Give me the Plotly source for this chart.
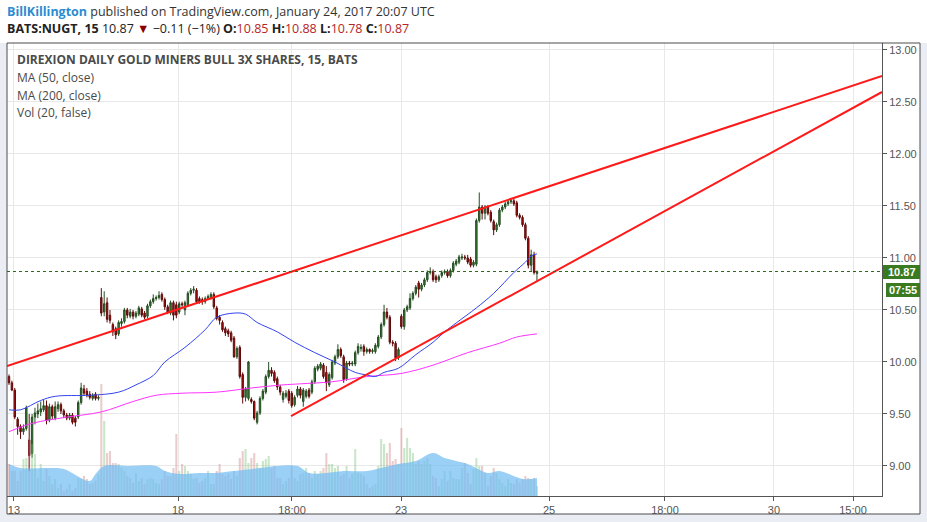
import plotly.graph_objects as go

# ---------------- data (15-min bars, BATS:NUGT) ----------------
opens = [9.86,9.80,9.73,9.45,9.38,9.33,9.36,9.25,9.12,9.47,9.50,9.52,9.54,9.58,9.44,9.57,9.46,9.55,9.59,9.53,
         9.49,9.46,9.49,9.46,9.47,9.61,9.74,9.72,9.69,9.65,9.69,9.65,
         10.62,10.48,10.57,10.45,10.36,10.32,10.27,10.37,10.39,10.50,10.44,10.48,10.44,10.46,10.51,10.47,10.44,10.54,
         10.58,10.61,10.62,10.65,10.60,10.53,10.47,10.57,
         10.55,10.48,10.56,10.50,10.55,10.66,10.69,10.69,10.61,10.60,10.58,10.61,10.62,10.65,10.52,10.43,10.38,10.32,
         10.30,10.28,10.23,10.05,10.14,9.88,9.66,9.65,
         9.64,9.62,9.42,9.51,9.65,9.71,9.86,9.92,9.90,9.84,9.76,9.64,9.67,9.72,9.70,9.59,9.68,9.74,9.62,9.67,
         9.73,9.71,9.81,9.93,9.94,9.97,
         9.90,9.78,9.85,9.99,10.05,10.12,10.05,9.84,9.99,9.98,9.98,10.09,10.13,10.15,10.10,10.12,10.10,10.10,10.15,10.24,
         10.36,10.48,10.43,10.19,10.18,10.04,
         10.44,10.34,10.50,10.52,10.61,10.66,10.76,10.70,10.74,10.79,10.86,10.87,10.82,10.79,10.83,10.86,10.87,10.83,10.88,10.94,
         10.96,11.00,11.01,11.00,10.99,10.93,
         10.94,11.36,11.49,11.43,11.49,11.44,11.35,11.27,11.32,11.46,11.49,11.52,11.54,11.55,11.53,11.41,11.39,11.32,11.19,10.93,
         11.03,10.85]
highs = [9.88,9.82,9.75,9.47,9.40,9.40,9.58,9.50,9.50,9.56,9.60,9.62,9.64,9.63,9.60,9.59,9.62,9.62,9.61,9.55,
         9.51,9.51,9.51,9.48,9.63,9.80,9.78,9.75,9.72,9.70,9.71,9.68,
         10.71,10.68,10.62,10.50,10.38,10.34,10.40,10.42,10.52,10.52,10.51,10.50,10.49,10.54,10.53,10.49,10.56,10.60,
         10.65,10.64,10.68,10.67,10.62,10.55,10.59,10.59,
         10.58,10.58,10.58,10.59,10.68,10.71,10.73,10.71,10.63,10.62,10.63,10.65,10.67,10.67,10.54,10.45,10.40,10.34,
         10.32,10.30,10.25,10.15,10.16,9.90,9.76,10.01,
         9.66,9.63,9.53,9.67,9.74,9.88,10.00,9.95,9.92,9.86,9.78,9.72,9.73,9.74,9.72,9.68,9.77,9.76,9.75,9.74,
         9.75,9.83,9.96,9.98,10.00,9.99,
         9.96,9.90,10.02,10.07,10.17,10.14,10.07,10.01,10.01,10.01,10.11,10.18,10.17,10.17,10.14,10.13,10.13,10.18,10.26,10.38,
         10.55,10.52,10.45,10.21,10.20,10.14,
         10.46,10.52,10.55,10.66,10.68,10.74,10.78,10.76,10.81,10.88,10.91,10.89,10.84,10.84,10.88,10.89,10.89,10.90,10.97,10.99,
         11.03,11.04,11.03,11.03,11.01,10.98,
         11.38,11.63,11.51,11.51,11.51,11.46,11.37,11.34,11.48,11.51,11.54,11.56,11.57,11.57,11.55,11.43,11.41,11.34,11.21,11.08,
         11.06,10.88]
lows = [9.78,9.72,9.45,9.30,9.26,9.30,9.34,8.95,9.08,9.40,9.46,9.48,9.52,9.40,9.42,9.45,9.44,9.52,9.50,9.46,
        9.44,9.44,9.40,9.38,9.45,9.59,9.68,9.66,9.64,9.63,9.63,9.63,
        10.44,10.44,10.38,10.37,10.25,10.22,10.25,10.34,10.37,10.42,10.42,10.41,10.42,10.44,10.43,10.41,10.42,10.52,
        10.56,10.59,10.60,10.58,10.50,10.46,10.45,10.40,
        10.42,10.46,10.53,10.45,10.53,10.64,10.66,10.56,10.56,10.55,10.56,10.60,10.60,10.51,10.40,10.36,10.29,10.25,
        10.24,10.19,10.04,10.03,9.84,9.60,9.62,9.63,
        9.60,9.44,9.40,9.49,9.63,9.69,9.84,9.86,9.80,9.73,9.68,9.61,9.65,9.60,9.56,9.57,9.66,9.65,9.57,9.65,
        9.65,9.69,9.79,9.91,9.92,9.84,
        9.72,9.76,9.83,9.97,10.03,10.04,9.80,9.82,9.96,9.96,9.96,10.07,10.10,10.06,10.08,10.08,10.08,10.08,10.13,10.22,
        10.34,10.41,10.17,10.15,10.01,10.02,
        10.32,10.31,10.48,10.50,10.59,10.64,10.62,10.68,10.72,10.77,10.84,10.77,10.76,10.77,10.81,10.84,10.81,10.81,10.86,10.92,
        10.94,10.98,10.98,10.94,10.91,10.91,
        10.92,11.34,11.37,11.37,11.41,11.34,11.22,11.25,11.30,11.44,11.47,11.50,11.52,11.50,11.39,11.37,11.30,11.17,10.90,10.87,
        10.84,10.78]
closes = [9.80,9.73,9.47,9.38,9.33,9.36,9.56,9.10,9.47,9.51,9.53,9.55,9.58,9.44,9.57,9.48,9.57,9.59,9.53,9.49,
          9.46,9.49,9.42,9.42,9.61,9.75,9.70,9.68,9.66,9.68,9.65,9.66,
          10.47,10.56,10.41,10.40,10.29,10.26,10.38,10.39,10.50,10.45,10.48,10.44,10.47,10.52,10.45,10.43,10.54,10.58,
          10.61,10.62,10.64,10.60,10.53,10.48,10.57,10.45,
          10.45,10.56,10.55,10.57,10.66,10.69,10.70,10.58,10.58,10.58,10.61,10.63,10.65,10.53,10.42,10.40,10.31,10.28,
          10.27,10.21,10.05,10.13,9.86,9.66,9.74,10.00,
          9.62,9.46,9.51,9.65,9.72,9.86,9.92,9.89,9.82,9.76,9.71,9.70,9.70,9.63,9.58,9.66,9.74,9.68,9.73,9.72,
          9.67,9.81,9.94,9.96,9.98,9.86,
          9.80,9.88,10.00,10.05,10.12,10.06,9.83,9.99,9.98,9.99,10.09,10.15,10.14,10.10,10.12,10.10,10.11,10.16,10.24,10.36,
          10.48,10.43,10.19,10.18,10.04,10.12,
          10.34,10.50,10.53,10.61,10.66,10.72,10.70,10.74,10.79,10.86,10.87,10.79,10.79,10.82,10.86,10.87,10.83,10.88,10.95,10.97,
          11.01,11.01,11.00,10.96,10.93,10.96,
          11.36,11.49,11.43,11.49,11.43,11.36,11.27,11.32,11.46,11.49,11.52,11.54,11.55,11.52,11.41,11.39,11.32,11.19,10.93,11.03,
          10.86,10.87]
volume_k = [32,25,25,15,25,37,38,58,52,42,18,32,15,27,20,12,17,8,12,5,7,12,5,8,18,17,20,17,12,13,15,
            22,112,75,43,45,33,33,32,28,25,20,18,13,23,15,18,12,17,18,17,13,12,17,25,20,20,28,62,25,32,
            30,25,22,17,18,13,15,18,25,12,12,25,32,22,20,22,17,25,20,38,45,47,33,38,43,33,28,35,37,40,28,30,
            18,18,12,15,18,30,18,15,22,23,28,23,18,25,22,25,28,43,32,32,28,30,20,22,30,18,22,47,23,22,20,
            12,8,10,12,30,57,52,43,53,35,37,32,68,48,58,48,43,32,35,32,35,38,32,20,18,10,17,25,15,25,18,
            17,17,28,33,23,12,27,38,30,30,23,10,20,28,23,17,13,10,17,13,12,17,13,17,20,18,17,18,10]
# indicator readings (bar index, value)
ma50_idx = [0,4,11,16,28,38,44,50,54,61,68,72,78,82,86,93,99,106,113,120,124,127,130,135,141,147,151,155,162,168,175,179,181,183]
ma50_val = [9.54,9.54,9.63,9.67,9.68,9.71,9.78,9.87,10.00,10.14,10.31,10.43,10.47,10.46,10.38,10.29,10.19,10.09,10.00,9.90,
            9.875,9.86,9.90,9.94,10.07,10.19,10.29,10.375,10.52,10.66,10.86,10.96,11.02,11.04]
ma200_idx = [0,8,20,32,43,51,60,72,84,95,101,112,124,136,147,159,170,176,183]
ma200_val = [9.33,9.41,9.47,9.52,9.62,9.68,9.70,9.71,9.75,9.78,9.79,9.81,9.86,9.89,9.97,10.09,10.18,10.24,10.27]
volma_idx = [0,4,14,19,28,30,33,42,51,54,59,66,71,78,87,93,100,104,110,116,124,129,135,141,147,151,155,159,166,170,178,183]
volma_k = [32,28,28,27,15,22,30,30,30,25,22,23,23,25,28,30,30,23,23,25,25,28,32,35,43,38,35,32,23,25,17,18]
# trend lines drawn by author: (bar index, price)
upper_trend = [(-0.69, 9.962), (302.6, 12.75)]
lower_trend = [(97.75, 9.48), (302.6, 12.596)]
last_price = 10.87
price_ticks = [9.0, 9.5, 10.0, 10.5, 11.0, 11.5, 12.0, 12.5, 13.0]
x_tick_pos = [1.73, 58.58, 98.09, 135.88, 187.18, 227.38, 265.16, 292.55]
x_tick_text = ["13", "18", "18:00", "23", "25", "18:00", "30", "15:00"]

# ---------------- layout geometry ----------------
L, R, T, B = 7, 882, 43, 496
W, H = R - L, B - T
def PX(x): return (x - L) / W
def PY(y): return (B - y) / H

idx = list(range(len(closes)))
vol_colors = ['rgba(110,190,110,0.38)' if c >= o else 'rgba(200,120,120,0.38)' for o, c in zip(opens, closes)]

fig = go.Figure()
fig.add_trace(go.Scatter(x=volma_idx, y=volma_k, yaxis='y2', mode='lines', line=dict(width=0, shape='spline'),
                         fill='tozeroy', fillcolor='rgba(115,188,242,0.72)', hoverinfo='skip', showlegend=False))
fig.add_trace(go.Bar(x=idx, y=volume_k, yaxis='y2', marker=dict(color=vol_colors, line=dict(width=0)),
                     width=0.72, showlegend=False))
fig.add_trace(go.Scatter(x=ma200_idx, y=ma200_val, mode='lines', line=dict(color='#ff33ff', width=1, shape='spline'),
                         showlegend=False))
fig.add_trace(go.Scatter(x=ma50_idx, y=ma50_val, mode='lines', line=dict(color='#3344ee', width=1, shape='spline'),
                         showlegend=False))
for tl in (upper_trend, lower_trend):
    fig.add_trace(go.Scatter(x=[p[0] for p in tl], y=[p[1] for p in tl], mode='lines',
                             line=dict(color='#ff1a1a', width=2), showlegend=False))
fig.add_trace(go.Candlestick(x=idx, open=opens, high=highs, low=lows, close=closes,
                             increasing=dict(fillcolor='#3a7f35', line=dict(color='#234d20', width=1)),
                             decreasing=dict(fillcolor='#b81010', line=dict(color='#5e0808', width=1)),
                             whiskerwidth=0, showlegend=False))

axfont = dict(family='Liberation Sans, Arial, sans-serif', size=11, color='#555555')
bg = '#eaeef4'
fig.update_layout(
    width=927, height=522, margin=dict(l=L, r=927 - R, t=T, b=522 - B, autoexpand=False),
    paper_bgcolor=bg, plot_bgcolor='white', showlegend=False, boxgap=0.3,
    xaxis=dict(range=[-0.693, 302.6], tickvals=x_tick_pos, ticktext=x_tick_text, showgrid=True, gridcolor='#e8e8e8',
               ticks='outside', ticklen=4, tickcolor='#555', showline=True, linecolor='#555', linewidth=1,
               zeroline=False, tickfont=axfont, rangeslider=dict(visible=False), fixedrange=True, automargin=False),
    yaxis=dict(range=[8.7115, 13.067], side='right', tickvals=price_ticks, ticktext=['%.2f' % v for v in price_ticks],
               showgrid=True, gridcolor='#e8e8e8', ticks='outside', ticklen=4, tickcolor='#555', showline=True,
               linecolor='#555', linewidth=1, zeroline=False, tickfont=axfont, fixedrange=True, automargin=False),
    yaxis2=dict(range=[0, H], overlaying='y', visible=False, fixedrange=True),
)

shapes = []
# white header band and white chart frame on the light page background
shapes.append(dict(type='rect', xref='paper', yref='paper', x0=PX(0), x1=PX(927), y0=PY(43), y1=PY(0), fillcolor='white', line=dict(width=0), layer='below'))
shapes.append(dict(type='rect', xref='paper', yref='paper', x0=PX(7), x1=PX(920), y0=PY(514), y1=PY(43), fillcolor='white', line=dict(width=0), layer='below'))
shapes.append(dict(type='rect', xref='paper', yref='paper', x0=PX(7), x1=PX(920), y0=PY(514), y1=PY(43), line=dict(color='#4d4d4d', width=1)))
shapes.append(dict(type='line', xref='paper', yref='y', x0=0, x1=1, y0=last_price, y1=last_price, line=dict(color='#2f6a1a', width=1, dash='dot')))
shapes.append(dict(type='rect', xref='paper', yref='paper', x0=PX(883), x1=PX(920), y0=PY(279), y1=PY(265), fillcolor='#3a7b22', line=dict(width=0)))
shapes.append(dict(type='rect', xref='paper', yref='paper', x0=PX(886), x1=PX(920), y0=PY(297), y1=PY(283), fillcolor='#3a7b22', line=dict(width=0)))
fig.update_layout(shapes=shapes)

txtfont = 'Open Sans, Noto Sans, sans-serif'
red = '#b5262a'
ann = []
ann.append(dict(xref='paper', yref='paper', x=PX(5), y=PY(11), xanchor='left', yanchor='middle', showarrow=False,
                text="<span style='color:#2b8cd0'><b>BillKillington</b></span> published on TradingView.com, January 24, 2017 20:07 UTC",
                font=dict(family=txtfont, size=12.5, color='#333333')))
ann.append(dict(xref='paper', yref='paper', x=PX(5), y=PY(28), xanchor='left', yanchor='middle', showarrow=False,
                text=("<b>BATS:NUGT, 15</b> 10.87 <span style='color:#8b0000'>▼</span> −0.11 (−1%) "
                      f"<b>O:</b><span style='color:{red}'>10.85</span> <b>H:</b><span style='color:{red}'>10.88</span> "
                      f"<b>L:</b><span style='color:{red}'>10.78</span> <b>C:</b><span style='color:{red}'>10.87</span>"),
                font=dict(family=txtfont, size=12.5, color='#222222')))
leg = [("<b>DIREXION DAILY GOLD MINERS BULL 3X SHARES, 15, BATS</b>", 60), ("MA (50, close)", 78),
       ("MA (200, close)", 95), ("Vol (20, false)", 112)]
for t, yy in leg:
    ann.append(dict(xref='paper', yref='paper', x=PX(15), y=PY(yy), xanchor='left', yanchor='middle', showarrow=False,
                    text=t, font=dict(family=txtfont, size=12, color='#4a4a4a')))
ann.append(dict(xref='paper', yref='paper', x=PX(901.5), y=PY(272), xanchor='center', yanchor='middle', showarrow=False,
                text='<b>10.87</b>', font=dict(family='Liberation Sans, Arial, sans-serif', size=11, color='white')))
ann.append(dict(xref='paper', yref='paper', x=PX(903), y=PY(290), xanchor='center', yanchor='middle', showarrow=False,
                text='<b>07:55</b>', font=dict(family='Liberation Sans, Arial, sans-serif', size=11, color='white')))
fig.update_layout(annotations=ann)

fig.write_html("out.html", config={'displayModeBar': False},
               post_script="document.body.style.margin='0';document.body.style.overflow='hidden';")
